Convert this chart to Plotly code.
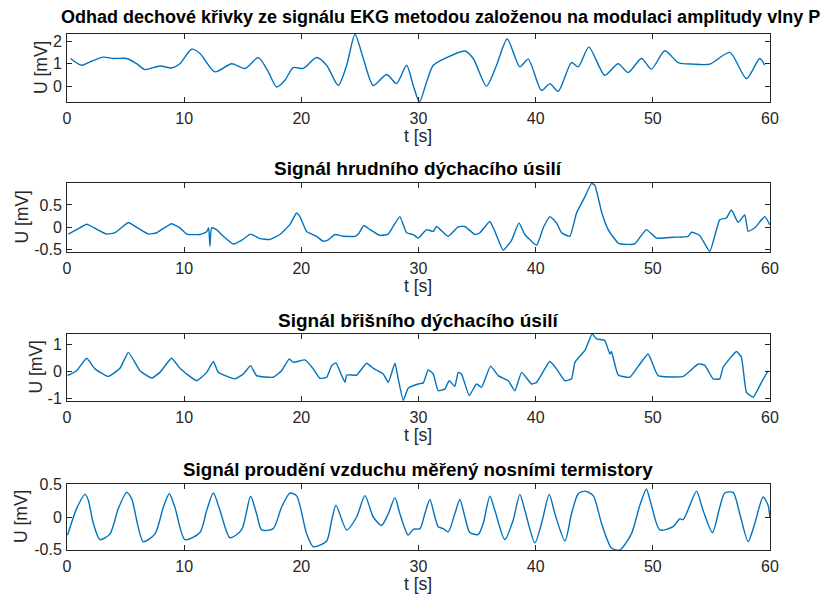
import plotly.graph_objects as go

# ---- data ----
ekg_t = [0.3,1.25,1.96,3.1,3.95,5.09,5.94,6.65,7.93,8.93,9.64,10.64,11.35,12.63,14.05,15.19,16.33,17.18,17.89,18.6,
         19.31,20.17,21.3,22.16,23.15,23.87,24.58,25.29,26.14,27.28,28.13,28.98,29.55,30.08,30.69,31.26,32.4,33.96,34.67,35.8,
         36.66,37.57,38.65,39.36,40.5,41.21,41.92,43.06,43.63,44.54,45.9,47.04,47.89,49.03,49.88,51.02,52.16,53.44,54.86,56.57,
         57.99,59.13,59.55]
ekg_u = [1.23,0.93,1.08,1.29,1.23,1.23,1.0,0.74,0.9,0.81,1.0,1.64,1.45,0.64,1.0,0.79,1.27,0.64,-0.03,0.27,
         0.83,0.79,1.27,0.93,0.04,0.93,2.3,1.23,0.04,0.52,0.12,0.93,0.04,-0.69,0.19,0.93,1.27,1.56,1.23,0.01,
         0.93,2.09,0.86,1.2,-0.18,0.12,-0.22,1.05,0.86,1.73,0.49,1.0,0.61,1.23,0.76,1.57,1.05,0.98,0.98,1.5,
         0.34,1.23,0.93]

chest_t = [0.11,0.82,1.68,2.25,3.38,4.1,5.24,5.94,6.94,7.65,8.93,9.64,10.21,11.35,11.92,12.09,12.2,12.34,12.77,13.34,
           14.19,14.9,15.67,16.47,17.32,18.17,19.02,19.59,19.88,20.45,21.3,21.87,22.3,22.87,23.58,24.58,24.86,25.34,25.86,26.71,
           27.42,27.84,28.41,28.98,29.55,29.98,30.41,30.69,31.26,31.54,32.54,33.38,33.96,34.81,35.24,36.09,36.52,37.23,37.94,38.57,
           39.08,40.08,40.65,41.21,41.78,42.21,42.92,43.49,44.2,44.77,45.05,45.62,46.19,47.04,47.75,48.46,49.45,50.31,51.73,53.01,
           53.3,54.0,54.86,55.71,56.28,56.71,57.28,57.85,58.13,58.7,59.55,59.98]
chest_u = [-0.15,-0.05,0.07,0,-0.15,-0.12,0.11,0,-0.15,-0.12,0.08,-0.01,-0.15,-0.16,-0.1,-0.01,-0.42,-0.01,-0.05,-0.2,
           -0.37,-0.29,-0.15,-0.25,-0.27,-0.16,0.06,0.32,0.24,-0.09,-0.2,-0.31,-0.28,-0.16,-0.2,-0.2,-0.15,0.04,-0.05,-0.18,
           -0.15,0.02,0.24,-0.12,-0.16,-0.24,-0.12,-0.05,-0.09,0.02,-0.2,0.01,0.02,-0.16,-0.12,0.13,-0.09,-0.51,-0.29,0.1,
           -0.16,-0.4,-0.01,0.24,0.1,-0.12,-0.2,0.32,0.68,0.98,0.94,0.35,-0.05,-0.35,-0.38,-0.37,-0.05,-0.24,-0.22,-0.2,
           -0.11,-0.18,-0.54,0.17,0.21,0.39,0.11,0.28,-0.09,-0.01,0.24,0.06]

abd_t = [0.05,0.82,1.68,2.39,3.52,4.52,5.24,6.23,7.22,7.93,8.93,9.64,11.06,11.92,12.49,12.91,14.33,15.05,15.67,16.18,
         17.6,18.31,18.97,19.31,20.31,21.02,21.59,22.16,22.59,22.96,23.44,23.73,23.87,24.72,25.57,26.14,26.99,27.42,27.99,28.27,
         28.7,29.12,29.98,30.41,30.83,31.26,31.68,32.25,32.62,33.1,33.39,33.67,34.33,34.95,35.38,36.15,36.8,37.66,38.23,38.8,
         39.65,40.08,41.21,41.78,42.5,43.06,43.35,44.2,44.82,45.2,45.9,46.33,46.47,47.04,48.03,48.89,49.6,50.45,52.59,53.87,
         54.43,55.14,55.71,56.0,57.14,57.56,57.99,58.56,59.27,59.84]
abd_u = [-0.16,0.02,0.48,0.09,-0.19,0.11,0.7,0.02,-0.25,-0.04,0.48,0.11,-0.35,-0.04,0.36,-0.04,-0.28,-0.1,0.21,-0.16,
         -0.22,0.02,0.46,0.33,0.42,0.09,-0.26,-0.22,0.21,0.31,-0.16,-0.41,-0.14,-0.14,0.3,0.11,-0.1,-0.41,0.3,-0.28,
         -1.08,-0.63,-0.47,-0.43,0.05,-0.1,-0.72,-0.65,-0.35,-0.56,-0.04,-0.1,-0.9,-0.47,-0.59,0.19,-0.16,-0.35,-0.72,-0.04,
         -0.47,-0.41,0.36,0.09,-0.35,-0.28,0.33,0.77,1.38,1.2,1.14,0.64,0.73,-0.14,-0.22,0.27,0.64,-0.16,-0.19,0.27,
         0.23,-0.28,-0.28,0.15,0.73,0.52,-0.78,-0.96,-0.41,0.02]

flow_t = [0.05,0.82,1.54,1.82,2.25,2.81,3.67,4.38,5.09,5.52,6.51,7.51,8.22,8.73,9.21,10.07,11.35,11.92,12.49,13.06,
          13.91,14.9,15.67,16.18,16.61,17.6,18.31,19.02,19.59,20.45,21.02,22.16,22.59,22.96,23.87,24.72,25.43,26.14,26.85,27.42,
          27.99,28.41,29.12,29.55,30.12,30.54,30.97,31.4,31.68,32.11,32.54,33.1,33.53,33.96,34.38,35.1,35.52,36.09,36.52,37.37,
          38.08,38.65,39.08,39.93,40.5,41.16,41.64,42.5,43.06,43.63,44.2,44.91,45.62,46.47,47.18,48.17,48.89,49.45,49.88,50.6,
          51.73,52.3,52.59,53.16,53.73,54.29,55.09,55.71,56.14,56.85,57.42,58.13,58.7,59.41,59.84,59.98]
flow_u = [-0.28,0.13,0.35,0.26,-0.1,-0.35,-0.26,0.13,0.38,0.28,-0.38,-0.26,0.15,0.36,0.15,-0.35,-0.24,0.1,0.37,0.1,
          -0.32,-0.2,0.32,0.05,-0.2,-0.18,0.15,0.37,0.33,-0.26,-0.46,-0.37,-0.05,0.18,-0.2,0,0.33,0,-0.13,0.05,
          0.3,0.05,-0.28,-0.19,-0.18,0.05,0.27,0,-0.15,-0.18,-0.23,0.05,0.27,0,-0.24,-0.27,-0.1,0.32,0.1,-0.35,
          -0.05,0.35,0.1,-0.4,-0.1,0.35,0.05,-0.37,0.05,0.36,0.4,0.33,-0.1,-0.48,-0.51,-0.26,0.18,0.43,0.18,-0.2,
          -0.15,-0.03,-0.04,0.18,0.4,0.1,-0.24,0.15,0.37,0.38,0.05,-0.38,-0.1,0.31,0.18,0]

titles = ["Odhad dechové křivky ze signálu EKG metodou založenou na modulaci amplitudy vlny P",
          "Signál hrudního dýchacího úsilí",
          "Signál břišního dýchacího úsilí",
          "Signál proudění vzduchu měřený nosními termistory"]
x_ticks = [0, 10, 20, 30, 40, 50, 60]
y_ticks = [[0, 1, 2], [-0.5, 0, 0.5], [-1, 0, 1], [-0.5, 0, 0.5]]
y_tick_text = [["0", "1", "2"], ["-0.5", "0", "0.5"], ["-1", "0", "1"], ["-0.5", "0", "0.5"]]
y_ranges = [[-0.69, 2.31], [-0.55, 0.99], [-1.1, 1.38], [-0.51, 0.51]]

series = [(ekg_t, ekg_u, "spline", 0.7), (chest_t, chest_u, "spline", 0.4),
          (abd_t, abd_u, "spline", 0.4), (flow_t, flow_u, "spline", 0.7)]

# ---- layout geometry (pixels in 822x602 figure) ----
W, H = 822, 602
x_left, x_right = 67, 770
boxes = [(34, 102), (183, 252), (334, 401), (484, 550)]
title_y = [17, 168, 320, 469]
title_x = [440, 418, 418, 418]
title_size = [18, 19, 19, 18.8]
ylabel_x = [41, 21, 35, 21]

LINE = "#0072BD"
AX = "#262626"
FONT = "Liberation Sans, Arial, Helvetica, sans-serif"
TICK_SIZE = 16
LABEL_SIZE = 17.5

fig = go.Figure()
layout = dict(
    width=W, height=H, margin=dict(l=0, r=0, t=0, b=0, autoexpand=False),
    paper_bgcolor="white", plot_bgcolor="white", showlegend=False,
    font=dict(family=FONT, size=TICK_SIZE, color=AX),
)
annotations = []
for i, ((t, u, shape, sm), (top, bot)) in enumerate(zip(series, boxes)):
    n = i + 1
    xa = "x" if n == 1 else f"x{n}"
    ya = "y" if n == 1 else f"y{n}"
    fig.add_trace(go.Scatter(x=t, y=u, mode="lines", xaxis=xa, yaxis=ya,
                             line=dict(color=LINE, width=1.4, shape=shape, smoothing=sm),
                             hoverinfo="skip"))
    common = dict(showline=True, mirror="ticks", linecolor=AX, linewidth=1, automargin=False,
                  ticks="inside", ticklen=5, tickcolor=AX, showgrid=False, zeroline=False,
                  tickfont=dict(family=FONT, size=TICK_SIZE, color=AX))
    layout[f"xaxis{n if n > 1 else ''}"] = dict(
        domain=[x_left / W, x_right / W], range=[0, 60], anchor=ya,
        tickvals=x_ticks, ticktext=[str(v) for v in x_ticks], ticklabelstandoff=2, **common)
    layout[f"yaxis{n if n > 1 else ''}"] = dict(
        domain=[1 - bot / H, 1 - top / H], range=y_ranges[i], anchor=xa,
        tickvals=y_ticks[i], ticktext=y_tick_text[i], ticklabelstandoff=1, **common)
    annotations.append(dict(text=f"<b>{titles[i]}</b>", x=title_x[i] / W, y=1 - title_y[i] / H,
                            xref="paper", yref="paper", showarrow=False, xanchor="center", yanchor="middle",
                            font=dict(family=FONT, size=title_size[i], color="black")))
    annotations.append(dict(text="t [s]", x=(x_left + x_right) / 2 / W, y=1 - (bot + 34) / H,
                            xref="paper", yref="paper", showarrow=False, xanchor="center", yanchor="middle",
                            font=dict(family=FONT, size=LABEL_SIZE, color=AX)))
    annotations.append(dict(text="U [mV]", x=ylabel_x[i] / W, y=1 - (top + bot) / 2 / H, textangle=-90,
                            xref="paper", yref="paper", showarrow=False, xanchor="center", yanchor="middle",
                            font=dict(family=FONT, size=LABEL_SIZE, color=AX)))
layout["annotations"] = annotations
fig.update_layout(**layout)
fig.write_html("out.html", config={"displayModeBar": False},
               post_script="document.body.style.margin='0';document.body.style.padding='0';")
